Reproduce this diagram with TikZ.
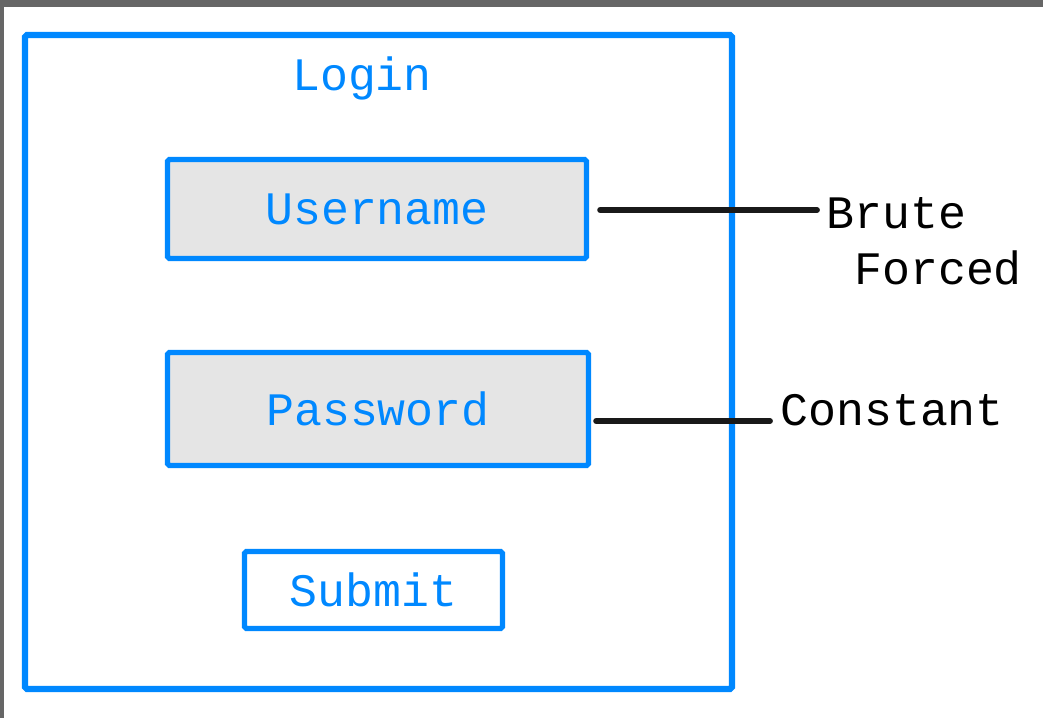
\documentclass[tikz,border=0pt]{standalone}
\usepackage{fontspec}
\setmonofont{Liberation Mono}
\usepackage{xcolor}
\usetikzlibrary{positioning, calc}
\definecolor{uiblue}{RGB}{0,136,255}
\definecolor{fieldgray}{RGB}{229,229,229}
\definecolor{framegray}{RGB}{102,102,102}

\begin{document}
\begin{tikzpicture}[x=0.02cm, y=-0.02cm,
            frame/.style={rectangle, draw=uiblue, line width=3.5pt, rounded corners=1pt, minimum width=14.14cm, minimum height=13.08cm},
            field/.style={rectangle, draw=uiblue, line width=3pt, rounded corners=1pt, fill=fieldgray, font=\ttfamily\fontsize{26.5}{30}\selectfont, text=uiblue},
            button/.style={rectangle, draw=uiblue, line width=3pt, rounded corners=1pt, fill=white, font=\ttfamily\fontsize{26.5}{30}\selectfont, text=uiblue},
            title/.style={font=\ttfamily\fontsize{26.5}{30}\selectfont, text=uiblue, inner sep=0pt},
            note/.style={font=\ttfamily\fontsize{26.5}{32}\selectfont, align=left, inner sep=0pt},
            link/.style={line width=3.3pt, line cap=round, black!90}
        ]
\useasboundingbox (0,0) rectangle (1043,718);

% Screen edge
            \fill[framegray] (0,0) rectangle (1043,7);
            \fill[framegray] (0,0) rectangle (4,718);

% Login form
            \node[frame] (form) at (378.5,362) {};
            \node[title] (login) at (362,78) {Login};

% Fields
            \node[field, minimum width=8.38cm, minimum height=1.98cm] (user) at (377,209) {Username};
            \node[field, minimum width=8.42cm, minimum height=2.26cm] (pass) at (378,409) {Password};
            \node[button, minimum width=5.16cm, minimum height=1.54cm] (submit) at (373.5,590) {Submit};

% Labels
            \node[note, anchor=north west] (brute) at (826,197) {Brute\\\hspace*{0.6em}Forced};
            \node[note, anchor=west] (const) at (780,410) {Constant};

% Label lines
            \draw[link] ($(user.east)+(11,1)$) -- ($(user.east -| brute.west)+(-9,1)$);
            \draw[link] ($(pass.east)+(5,12)$) -- ($(pass.east -| const.west)+(-10,12)$);

        \end{tikzpicture}
\end{document}
